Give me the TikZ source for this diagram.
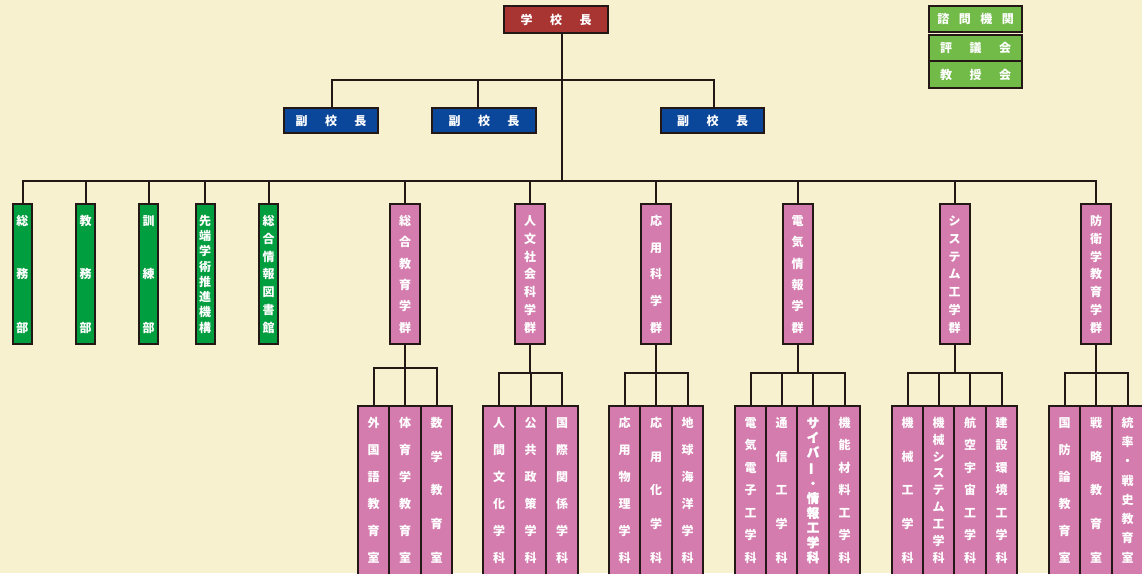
\documentclass[tikz,border=0pt]{standalone}
\usepackage{fontspec}
\newfontfamily\jpfont{Noto Sans CJK JP}
\definecolor{bgcol}{HTML}{F7F1CF}
\definecolor{linecol}{HTML}{231815}
\definecolor{headred}{HTML}{A93532}
\definecolor{viceblue}{HTML}{0A469A}
\definecolor{councilgreen}{HTML}{72BB49}
\definecolor{deptgreen}{HTML}{009E3F}
\definecolor{grouppink}{HTML}{D57CAE}
\tikzset{
  box/.style={draw=linecol, line width=2pt, inner sep=0pt, text=white,
    font=\jpfont\bfseries\fontsize{12}{12}\selectfont},
  boss/.style={box, fill=headred, minimum width=104pt, minimum height=27pt},
  vice/.style={box, fill=viceblue, minimum height=25pt},
  council/.style={box, fill=councilgreen, minimum width=93pt},
  dept/.style={box, fill=deptgreen, minimum width=19pt, minimum height=140pt},
  group/.style={box, fill=grouppink, minimum width=30pt, minimum height=140pt},
  course/.style={box, fill=grouppink, anchor=north, minimum height=195pt},
  link/.style={draw=linecol, line width=2pt}
}
% vertical text: total height, height of the character column, characters
\newcommand\vchars[3]{\vbox to #1{\offinterlineskip\vskip11pt
  \vbox to #2{\foreach \ch [count=\n] in {#3}{\ifnum\n>1 \vfill\fi
    \hbox to 14pt{\hss\vrule height 10.5pt depth 1.5pt width 0pt\ch\hss}}}\vfill}}
\newcommand\boxtext[1]{\vchars{140pt}{117pt}{#1}}
\newcommand\coursetext[1]{\vchars{195pt}{145pt}{#1}}
\newcommand\vbar{\rotatebox[origin=c]{90}{ー}}
\newcommand\gap[1]{\hspace{#1}}

\begin{document}
\begin{tikzpicture}[x=1pt,y=-1pt]
  \fill[bgcol] (0,0) rectangle (1142,573);
  \useasboundingbox (0,0) rectangle (1142,573);
  \clip (0,0) rectangle (1142,573);

  % head and vice principals
  \node[boss] (P) at (556,19.5) {学\gap{17.5pt}校\gap{17.5pt}長};
  \node[vice, minimum width=94pt] (V1) at (331,120.5) {副\gap{17.5pt}校\gap{17.5pt}長};
  \node[vice, minimum width=104pt] (V2) at (484,120.5) {副\gap{17.5pt}校\gap{17.5pt}長};
  \node[vice, minimum width=103pt] (V3) at (712.5,120.5) {副\gap{17.5pt}校\gap{17.5pt}長};

  % advisory bodies
  \node[council, minimum height=25.5pt] (A1) at (975.5,18.75) {諮\gap{9.5pt}問\gap{9.5pt}機\gap{9.5pt}関};
  \node[council, minimum height=26.5pt] (A2) at (975.5,47.75) {評\gap{17.5pt}議\gap{17.5pt}会};
  \node[council, minimum height=27pt] (A3) at (975.5,74.5) {教\gap{17.5pt}授\gap{17.5pt}会};

  % departments
  \node[dept] (D1) at (22.5,274) {\boxtext{総,務,部}};
  \node[dept] (D2) at (85.5,274) {\boxtext{教,務,部}};
  \node[dept] (D3) at (148.5,274) {\boxtext{訓,練,部}};
  \node[dept] (D4) at (205,274) {\boxtext{先,端,学,術,推,進,機,構}};
  \node[dept] (D5) at (268.5,274) {\boxtext{総,合,情,報,図,書,館}};

  % schools
  \node[group] (G1) at (405,274) {\boxtext{総,合,教,育,学,群}};
  \node[group] (G2) at (530,274) {\boxtext{人,文,社,会,科,学,群}};
  \node[group] (G3) at (656,274) {\boxtext{応,用,科,学,群}};
  \node[group] (G4) at (797.5,274) {\boxtext{電,気,情,報,学,群}};
  \node[group] (G5) at (954.5,274) {\boxtext{シ,ス,テ,ム,工,学,群}};
  \node[group] (G6) at (1096,274) {\boxtext{防,衛,学,教,育,学,群}};

  % courses
  \begin{scope}[course/.append style={minimum width=31.5pt}]
    \node[course] (S11) at (373.5,405) {\coursetext{外,国,語,教,育,室}};
    \node[course] (S12) at (405,405) {\coursetext{体,育,学,教,育,室}};
    \node[course] (S13) at (436.5,405) {\coursetext{数,学,教,育,室}};
    \node[course] (S21) at (499,405) {\coursetext{人,間,文,化,学,科}};
    \node[course] (S22) at (530.5,405) {\coursetext{公,共,政,策,学,科}};
    \node[course] (S23) at (562,405) {\coursetext{国,際,関,係,学,科}};
    \node[course] (S31) at (624.5,405) {\coursetext{応,用,物,理,学,科}};
    \node[course] (S32) at (656,405) {\coursetext{応,用,化,学,科}};
    \node[course] (S33) at (687.5,405) {\coursetext{地,球,海,洋,学,科}};
    \node[course] (S61) at (1064.5,405) {\coursetext{国,防,論,教,育,室}};
    \node[course] (S62) at (1096,405) {\coursetext{戦,略,教,育,室}};
    \node[course] (S63) at (1127.5,405) {\coursetext{統,率,・,戦,史,教,育,室}};
  \end{scope}
  \begin{scope}[course/.append style={minimum width=31.25pt}]
    \node[course] (S41) at (750.5,405) {\coursetext{電,気,電,子,工,学,科}};
    \node[course] (S42) at (781.5,405) {\coursetext{通,信,工,学,科}};
    \node[course, font=\jpfont\bfseries\fontsize{12.5}{12.5}\selectfont\addfontfeature{FakeBold=1.5}] (S43) at (813,405) {\coursetext{サ,イ,バ,\vbar,・,情,報,工,学,科}};
    \node[course] (S44) at (844.5,405) {\coursetext{機,能,材,料,工,学,科}};
    \node[course] (S51) at (907.5,405) {\coursetext{機,械,工,学,科}};
    \node[course] (S52) at (938.5,405) {\coursetext{機,械,シ,ス,テ,ム,工,学,科}};
    \node[course] (S53) at (970,405) {\coursetext{航,空,宇,宙,工,学,科}};
    \node[course] (S54) at (1001.5,405) {\coursetext{建,設,環,境,工,学,科}};
  \end{scope}

  % connectors
  \draw[link] ([xshift=6pt]P.south) -- ++(0,46) -| ([xshift=1pt]V1.north);
  \draw[link] ([xshift=6pt]P.south) -- ++(0,46) -| ([xshift=-6pt]V2.north);
  \draw[link] ([xshift=6pt]P.south) -- ++(0,46) -| ([xshift=1.5pt]V3.north);
  \foreach \t in {D1,D2,D3,D4,D5,G1,G2,G3,G4,G5,G6}
    \draw[link] ([xshift=6pt]P.south) -- ++(0,147) -| (\t.north);
  \foreach \t in {S11,S12,S13}
    \draw[link] (G1.south) -- ++(0,23) -| (\t.north);
  \foreach \t in {S21,S22,S23}
    \draw[link] (G2.south) -- ++(0,28) -| (\t.north);
  \foreach \t in {S31,S32,S33}
    \draw[link] (G3.south) -- ++(0,28) -| (\t.north);
  \foreach \t in {S41,S42,S43,S44}
    \draw[link] (G4.south) -- ++(0,28) -| (\t.north);
  \foreach \t in {S51,S52,S53,S54}
    \draw[link] (G5.south) -- ++(0,28) -| (\t.north);
  \foreach \t in {S61,S62,S63}
    \draw[link] (G6.south) -- ++(0,28) -| (\t.north);
\end{tikzpicture}
\end{document}
